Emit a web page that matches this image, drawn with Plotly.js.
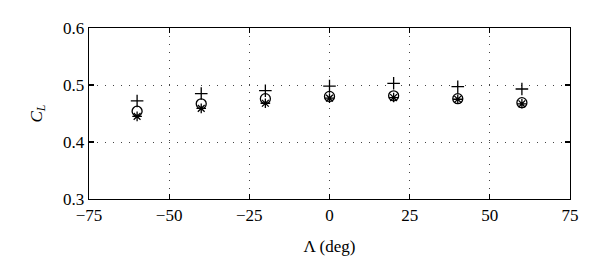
<!DOCTYPE html>
<html><head><meta charset="utf-8">
<script src="https://cdn.plot.ly/plotly-3.0.1.min.js"></script>
<style>html,body{margin:0;padding:0;background:#fff;}#chart{width:600px;height:276px;}</style>
</head><body><div id="chart"></div>
<script>
const sweep = [-60, -40, -20, 0, 20, 40, 60];
const clPlus = [0.472, 0.485, 0.490, 0.498, 0.503, 0.497, 0.493];
const clCircle = [0.454, 0.467, 0.476, 0.480, 0.481, 0.476, 0.469];
const clStar = [0.445, 0.459, 0.468, 0.477, 0.478, 0.475, 0.467];
const xTicks = [-75, -50, -25, 0, 25, 50, 75];
const yTicks = [0.3, 0.4, 0.5, 0.6];

const font = {family: 'Liberation Serif', size: 17, color: '#000'};
function tr(y, sym, size) {
  return {x: sweep, y: y, type: 'scatter', mode: 'markers', cliponaxis: false,
    marker: {symbol: sym, size: size, color: '#000', line: {color: '#000', width: 1.3}}};
}
const data = [tr(clPlus, 'cross-thin-open', 9), tr(clCircle, 'circle-open', 10), tr(clStar, 'asterisk-open', 8)];
const axisBase = {showline: true, linecolor: '#000', linewidth: 1.3, mirror: 'ticks', ticks: 'inside',
  ticklen: 5, tickcolor: '#000', tickwidth: 1.3, zeroline: false, showgrid: true, gridcolor: '#444', gridwidth: 1,
  griddash: '1px,7px', tickfont: font};
const layout = {
  width: 600, height: 276, paper_bgcolor: '#fff', plot_bgcolor: '#fff', showlegend: false,
  margin: {l: 89, r: 30, t: 28, b: 77},
  font: font,
  xaxis: Object.assign({}, axisBase, {range: [-75, 75], tickvals: xTicks, ticktext: xTicks.map(v => v < 0 ? '\u2212' + Math.abs(v) : String(v)),
    title: {text: '\u039B (deg)', font: font, standoff: 16}}),
  yaxis: Object.assign({}, axisBase, {range: [0.3, 0.6], tickvals: yTicks, ticktext: yTicks.map(v => v.toFixed(1)),
    title: {text: '<i>C<sub>L</sub></i>', font: font, standoff: 16}})
};
Plotly.newPlot('chart', data, layout, {staticPlot: true});
</script></body></html>
